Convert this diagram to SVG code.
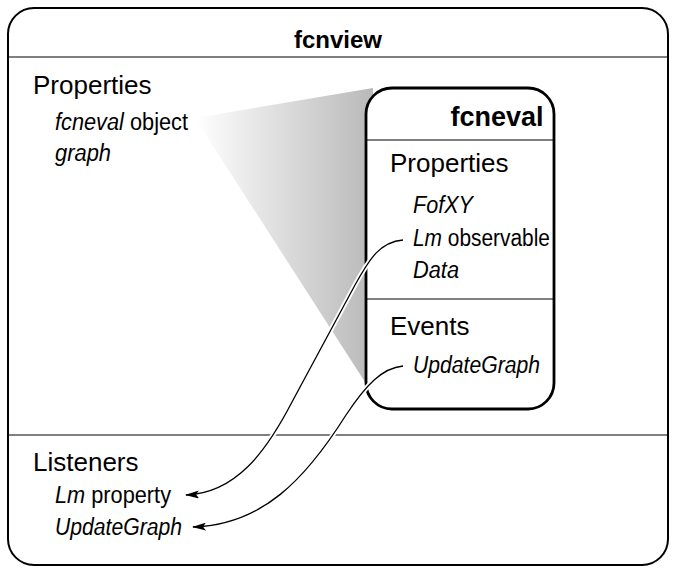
<svg xmlns="http://www.w3.org/2000/svg" width="677" height="573" viewBox="0 0 677 573">
<style>
.box{fill:#fff;stroke:#000;}
.div{stroke:#000;stroke-width:1;fill:none;}
.title{font-family:"Liberation Sans",Arial,sans-serif;font-weight:bold;font-size:24px;text-anchor:middle;fill:#000;}
.head{font-family:"Liberation Sans",Arial,sans-serif;font-size:26px;fill:#000;}
.item{font-family:"Liberation Sans",Arial,sans-serif;font-size:23px;fill:#000;}
.it{font-style:italic;}
.halo{fill:none;stroke:#fff;stroke-width:5;}
.wire{fill:none;stroke:#000;stroke-width:1.3;}
</style>
<defs>
<linearGradient id="wedge" x1="195" y1="0" x2="370" y2="0" gradientUnits="userSpaceOnUse">
<stop offset="0" stop-color="#ffffff"/>
<stop offset="1" stop-color="#bababa"/>
</linearGradient>
<marker id="arr" viewBox="0 0 14 8" refX="13" refY="4" markerWidth="14" markerHeight="8" markerUnits="userSpaceOnUse" orient="auto">
<path d="M0,0 L14,4 L0,8 L3,4 Z" fill="#000"/>
</marker>
</defs>
<g id="fcnview">
<rect class="box" x="8" y="8" width="660" height="557" rx="26" ry="26" stroke-width="2"/>
<text class="title" x="338" y="48">fcnview</text>
<line class="div" x1="9" y1="57" x2="667" y2="57"/>
<text class="head" x="33" y="94">Properties</text>
<text class="item" x="55" y="130" textLength="133" lengthAdjust="spacingAndGlyphs"><tspan class="it">fcneval</tspan> object</text>
<text class="item" x="55" y="161" textLength="56" lengthAdjust="spacingAndGlyphs"><tspan class="it">graph</tspan></text>
<line class="div" x1="9" y1="435" x2="667" y2="435"/>
<text class="head" x="33" y="471">Listeners</text>
<text class="item" x="55" y="503" textLength="116" lengthAdjust="spacingAndGlyphs"><tspan class="it">Lm</tspan> property</text>
<text class="item" x="55" y="535" textLength="127" lengthAdjust="spacingAndGlyphs"><tspan class="it">UpdateGraph</tspan></text>
</g>
<polygon id="wedge-shade" points="195,118 373,88 373,382 365,382" fill="url(#wedge)"/>
<g id="fcneval">
<rect class="box" x="366" y="88" width="188" height="321" rx="26" ry="26" stroke-width="2.8"/>
<text class="title" x="497" y="126" style="font-size:27px">fcneval</text>
<line class="div" x1="367" y1="140" x2="553" y2="140"/>
<text class="head" x="390" y="172">Properties</text>
<text class="item it" x="413" y="213" textLength="60" lengthAdjust="spacingAndGlyphs">FofXY</text>
<text class="item" x="413" y="246" textLength="137" lengthAdjust="spacingAndGlyphs"><tspan class="it">Lm</tspan> observable</text>
<text class="item it" x="413" y="278" textLength="46" lengthAdjust="spacingAndGlyphs">Data</text>
<line class="div" x1="367" y1="299" x2="553" y2="299"/>
<text class="head" x="390" y="335">Events</text>
<text class="item it" x="413" y="373" textLength="127" lengthAdjust="spacingAndGlyphs">UpdateGraph</text>
</g>
<g id="connectors">
<path class="halo" d="M 403 240 C 380 242, 370 258, 355 285 L 292 402 C 266 452, 236 493, 198 495"/>
<path class="wire" d="M 403 240 C 380 242, 370 258, 355 285 L 292 402 C 266 452, 236 493, 186 495" marker-end="url(#arr)"/>
<path class="halo" d="M 403 366 C 382 368, 366 385, 346 415 C 305 480, 262 525, 205 527"/>
<path class="wire" d="M 403 366 C 382 368, 366 385, 346 415 C 305 480, 262 525, 193 527" marker-end="url(#arr)"/>
</g>
</svg>
